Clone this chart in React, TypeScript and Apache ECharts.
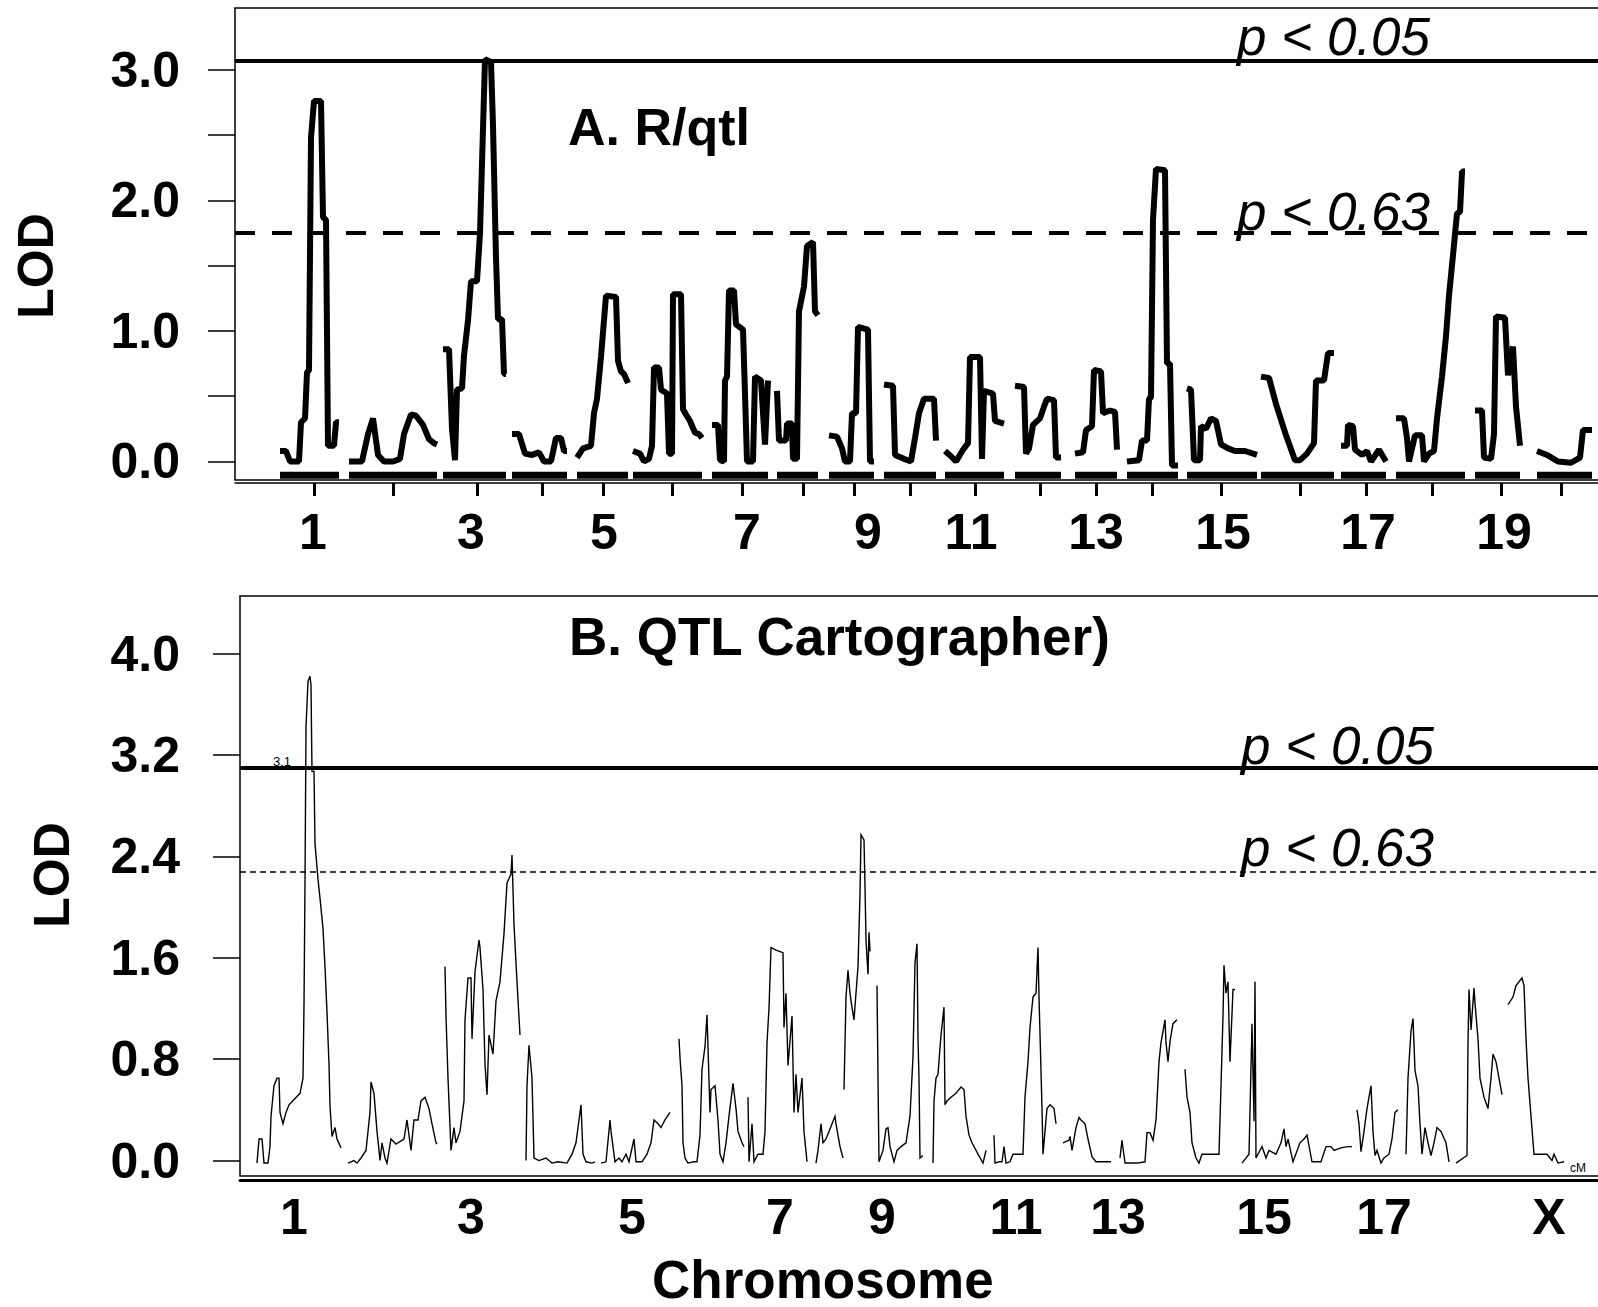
import React, { useEffect, useRef } from "react";
import * as echarts from "echarts";

// ---------- Panel A (R/qtl): [cumulative position (cM), LOD] per chromosome ----------
const rqtlChr1 = [[45,0.08],[51,0.08],[55,0.0],[64,0.0],[66,0.3],[70,0.33],[72,0.68],[74,0.7],[76,2.48],[79,2.76],[86,2.76],[88,1.87],[91,1.85],[93,0.12],[99,0.12],[101,0.3],[104,0.3]];
const rqtlChr2 = [[114,0.0],[127,0.0],[133,0.21],[138,0.33],[143,0.05],[149,0.0],[158,0.0],[165,0.02],[169,0.21],[176,0.36],[181,0.35],[188,0.28],[194,0.17],[199,0.14],[202,0.13]];
const rqtlChr3 = [[208,0.86],[214,0.86],[217,0.25],[220,0.01],[222,0.55],[227,0.56],[229,0.81],[233,1.08],[236,1.38],[242,1.38],[245,1.75],[250,3.08],[256,3.06],[258,2.57],[261,1.56],[263,1.09],[267,1.09],[269,0.67],[271,0.67]];
const rqtlChr4 = [[277,0.21],[284,0.21],[290,0.06],[297,0.05],[304,0.07],[309,0.0],[316,0.0],[321,0.18],[326,0.18],[329,0.08],[332,0.08]];
const rqtlChr5 = [[342,0.03],[348,0.1],[356,0.12],[359,0.37],[362,0.48],[366,0.8],[371,1.27],[381,1.26],[383,0.77],[386,0.69],[389,0.67],[393,0.6]];
const rqtlChr6 = [[398,0.08],[405,0.06],[409,0.0],[414,0.02],[417,0.12],[419,0.72],[424,0.72],[426,0.55],[432,0.52],[434,0.06],[437,0.06],[438,1.28],[446,1.28],[448,0.4],[451,0.36],[455,0.31],[460,0.22],[464,0.21],[467,0.18]];
const rqtlChr7 = [[477,0.28],[483,0.28],[485,0.01],[489,0.0],[490,0.62],[492,0.65],[494,1.31],[499,1.31],[501,1.05],[508,1.01],[510,0.52],[512,0.0],[518,0.0],[520,0.65],[526,0.62],[530,0.13],[533,0.62]];
const rqtlChr8 = [[542,0.54],[544,0.16],[551,0.16],[552,0.29],[557,0.29],[558,0.02],[562,0.02],[564,1.15],[569,1.34],[572,1.65],[578,1.68],[580,1.15],[583,1.12]];
const rqtlChr9 = [[594,0.2],[602,0.19],[607,0.1],[610,0.0],[615,0.0],[617,0.37],[621,0.37],[623,1.03],[633,1.01],[635,0.0],[639,0.0]];
const rqtlChr10 = [[649,0.59],[658,0.58],[660,0.05],[669,0.02],[676,0.0],[680,0.18],[684,0.37],[689,0.48],[699,0.48],[701,0.16]];
const rqtlChr11 = [[710,0.08],[716,0.04],[721,0.0],[728,0.09],[733,0.14],[735,0.8],[745,0.8],[747,0.02],[749,0.54],[758,0.52],[760,0.31],[769,0.29]];
const rqtlChr12 = [[780,0.58],[789,0.57],[791,0.06],[794,0.1],[798,0.28],[805,0.33],[809,0.42],[812,0.48],[819,0.47],[821,0.03],[826,0.03]];
const rqtlChr13 = [[840,0.06],[848,0.07],[851,0.24],[857,0.27],[859,0.7],[866,0.69],[868,0.37],[875,0.39],[880,0.38],[882,0.09]];
const rqtlChr14 = [[892,0.0],[904,0.01],[907,0.16],[912,0.16],[914,0.48],[916,0.49],[918,1.85],[921,2.24],[930,2.23],[932,0.75],[935,0.75],[937,-0.03],[943,-0.03]];
const rqtlChr15 = [[952,0.56],[956,0.55],[959,0.01],[965,0.01],[966,0.27],[971,0.25],[976,0.33],[981,0.31],[986,0.13],[993,0.1],[1000,0.08],[1010,0.08],[1022,0.05]];
const rqtlChr16 = [[1026,0.65],[1034,0.64],[1041,0.44],[1051,0.2],[1060,0.01],[1065,0.01],[1072,0.06],[1079,0.14],[1081,0.62],[1089,0.62],[1093,0.83],[1099,0.83]];
const rqtlChr17 = [[1106,0.12],[1112,0.12],[1113,0.28],[1118,0.27],[1120,0.09],[1127,0.05],[1132,0.08],[1136,0.0],[1144,0.09],[1151,0.0]];
const rqtlChr18 = [[1161,0.33],[1169,0.33],[1172,0.18],[1174,0.0],[1180,0.2],[1187,0.2],[1189,0.0],[1194,0.06],[1199,0.08],[1202,0.33],[1207,0.65],[1211,0.96],[1214,1.27],[1218,1.58],[1222,1.9],[1225,1.91],[1227,2.22],[1230,2.22]];
const rqtlChr19 = [[1240,0.39],[1247,0.39],[1249,0.03],[1256,0.02],[1259,0.21],[1261,1.11],[1270,1.1],[1273,0.66],[1278,0.88],[1281,0.42],[1285,0.12]];
const rqtlChr20 = [[1302,0.08],[1312,0.05],[1323,0.0],[1336,-0.01],[1345,0.03],[1348,0.24],[1357,0.24]];

const rqtlProfiles = [rqtlChr1, rqtlChr2, rqtlChr3, rqtlChr4, rqtlChr5, rqtlChr6, rqtlChr7, rqtlChr8, rqtlChr9, rqtlChr10,
  rqtlChr11, rqtlChr12, rqtlChr13, rqtlChr14, rqtlChr15, rqtlChr16, rqtlChr17, rqtlChr18, rqtlChr19, rqtlChr20];

const rqtlTickPositions = [79,158,242,307,368,437,507,568,619,675,740,805,861,917,986,1065,1131,1197,1266,1326];
const rqtlLabelPositions = [78,236,369,512,633,736,861,988,1133,1269];
const rqtlLabels = ["1","3","5","7","9","11","13","15","17","19"];
const rqtlYTicks = [0,0.5,1,1.5,2,2.5,3];
const rqtlYLabels = [0,1,2,3];
const rqtlThreshold05 = 3.07;
const rqtlThreshold63 = 1.75;
const rqtlRugLevel = -0.105;

// ---------- Panel B (QTL Cartographer): [cumulative position (cM), LOD] per segment ----------
const cartSeg01 = [[17,-0.02],[19,0.17],[22,0.17],[24,-0.02],[28,-0.02],[30,0.11],[31,0.35],[34,0.59],[37,0.65],[39,0.65],[40,0.38],[43,0.29],[46,0.38],[49,0.44],[55,0.49],[60,0.53],[63,0.65],[64,1.23],[65,2.19],[66,3.42],[68,3.78],[70,3.82],[71,3.75],[72,3.07],[74,3.07],[75,2.5],[78,2.22],[80,2.07],[83,1.83],[85,1.53],[87,1.17],[89,0.76],[90,0.43],[92,0.19],[95,0.26],[97,0.17],[101,0.1]];
const cartSeg02 = [[108,-0.02],[114,0.0],[117,-0.02],[121,0.02],[126,0.08],[130,0.38],[131,0.62],[134,0.53],[137,0.23],[139,0.08],[140,0.0],[142,0.14],[145,0.02],[147,-0.02],[151,0.17],[156,0.13],[164,0.17],[167,0.32],[171,0.08],[174,0.32],[178,0.32],[181,0.47],[185,0.5],[189,0.41],[192,0.29],[196,0.14],[197,0.13]];
const cartSeg03 = [[205,1.53],[206,1.14],[208,0.65],[211,0.08],[214,0.26],[216,0.14],[220,0.23],[224,0.47],[225,1.11],[228,1.44],[231,1.44],[232,0.96],[235,1.49],[239,1.74],[240,1.68],[243,1.35],[245,0.76],[247,0.52],[249,0.99],[253,0.84],[256,1.26],[260,1.41],[264,1.79],[267,2.19],[271,2.26],[272,2.41],[274,1.86],[277,1.41],[280,0.99]];
const cartSeg04 = [[286,0.0],[287,0.59],[289,0.91],[292,0.65],[294,0.02],[299,0.0],[306,0.02],[312,-0.02],[318,-0.01],[327,-0.02],[332,0.05],[336,0.14],[341,0.44],[343,0.05],[346,-0.01],[352,-0.02],[355,-0.01]];
const cartSeg05 = [[361,-0.02],[366,-0.01],[370,0.32],[371,0.23],[375,-0.01],[379,0.02],[382,-0.01],[386,0.05],[389,-0.01],[394,0.17],[396,-0.01],[402,-0.01],[407,0.05],[411,0.14],[414,0.32],[418,0.29],[421,0.26],[425,0.32],[430,0.38]];
const cartSeg06 = [[439,0.96],[440,0.81],[442,0.59],[443,0.14],[445,0.02],[448,-0.02],[454,-0.01],[457,-0.01],[460,0.2],[462,0.72],[465,0.9],[467,1.15],[470,0.38],[471,0.56],[475,0.59],[478,0.32],[480,0.05],[483,-0.01],[486,0.14],[489,0.35],[493,0.61],[496,0.41],[498,0.23],[502,0.14],[504,0.11]];
const cartSeg07 = [[508,0.5],[509,-0.01],[512,0.29],[514,-0.01],[518,0.05],[523,0.05],[525,0.23],[527,0.93],[529,1.2],[531,1.68],[536,1.66],[543,1.64],[544,1.05],[546,1.32],[548,0.75],[552,1.14],[554,0.38],[556,0.68],[558,0.38],[562,0.65],[564,0.23],[567,-0.01]];
const cartSeg08 = [[576,-0.02],[578,0.08],[581,0.29],[583,0.14],[586,0.17],[589,0.23],[595,0.35],[596,0.29],[600,0.11],[603,0.02]];
const cartSeg09 = [[604,0.56],[606,1.29],[608,1.5],[610,1.32],[611,1.26],[614,1.11],[616,1.32],[618,1.53],[620,2.1],[621,2.57],[624,2.53],[625,2.16],[626,1.74],[628,1.47],[629,1.8],[630,1.65]];
const cartSeg10 = [[637,1.38],[638,0.65],[639,-0.01],[643,0.08],[646,0.25],[648,0.26],[650,0.11],[654,-0.01],[657,0.08],[661,0.11],[666,0.14],[670,0.35],[673,0.82],[675,1.56],[677,1.71],[678,0.96],[679,0.65],[680,0.02],[683,0.04]];
const cartSeg11 = [[693,-0.02],[694,0.47],[696,0.65],[698,0.68],[701,0.99],[704,1.21],[705,0.44],[707,0.47],[711,0.5],[716,0.53],[721,0.58],[724,0.56],[726,0.35],[729,0.2],[732,0.14],[738,0.05],[743,-0.02],[746,0.08]];
const cartSeg12 = [[754,0.2],[755,-0.02],[759,-0.01],[762,-0.01],[764,0.11],[766,-0.02],[770,-0.01],[773,0.05],[779,0.05],[783,0.05],[785,0.5],[788,0.78],[790,1.05],[793,1.29],[796,1.32],[798,1.68],[799,1.29],[800,1.0],[802,0.41],[803,0.05],[805,0.23],[807,0.41],[810,0.44],[814,0.41],[816,0.29]];
const cartSeg13 = [[823,0.14],[829,0.16],[830,0.19],[832,0.08],[836,0.26],[839,0.34],[841,0.32],[845,0.29],[848,0.17],[852,0.03],[856,-0.01],[863,-0.01],[871,-0.01]];
const cartSeg14 = [[880,0.02],[882,0.16],[885,-0.02],[889,-0.02],[897,-0.02],[905,-0.01],[907,0.22],[910,0.22],[913,0.16],[916,0.32],[919,0.78],[921,0.93],[925,1.11],[926,0.93],[928,0.78],[930,0.94],[933,1.08],[937,1.11]];
const cartSeg15 = [[945,0.72],[947,0.5],[950,0.38],[952,0.14],[956,0.02],[959,-0.02],[962,0.05],[971,0.05],[979,0.05],[981,0.59],[983,1.14],[984,1.54],[986,1.32],[988,1.41],[990,0.78],[993,1.35],[995,1.35]];
const cartSeg16 = [[1002,-0.02],[1009,0.05],[1012,1.08],[1014,0.31],[1015,1.41],[1016,0.02],[1022,0.11],[1026,0.02],[1029,0.08],[1036,0.05],[1041,0.14],[1044,0.25],[1046,0.11],[1048,0.17],[1053,-0.01],[1060,0.14],[1064,0.17],[1067,0.2],[1072,-0.01],[1081,-0.01],[1086,0.11],[1091,0.11],[1094,0.08],[1101,0.1],[1108,0.11],[1112,0.11]];
const cartSeg17 = [[1117,0.4],[1119,0.29],[1121,0.07],[1124,0.23],[1127,0.41],[1131,0.59],[1133,0.23],[1135,0.04],[1137,0.08],[1141,-0.02],[1144,0.02],[1149,0.05],[1152,0.17],[1155,0.38],[1158,0.4]];
const cartSeg18 = [[1166,0.05],[1168,0.65],[1171,1.02],[1173,1.12],[1175,0.71],[1178,0.59],[1180,0.29],[1182,0.05],[1185,0.26],[1188,0.14],[1191,0.04],[1194,0.14],[1197,0.26],[1201,0.23],[1206,0.14],[1209,-0.01]];
const cartSeg19 = [[1216,-0.02],[1227,0.04],[1228,0.93],[1229,1.35],[1231,1.03],[1234,1.36],[1235,1.24],[1238,0.96],[1240,0.65],[1244,0.5],[1248,0.41],[1251,0.65],[1253,0.84],[1256,0.78],[1259,0.65],[1262,0.52]];
const cartSeg20 = [[1268,1.23],[1273,1.29],[1276,1.38],[1282,1.44],[1284,1.38],[1286,0.96],[1288,0.65],[1291,0.35],[1294,0.05],[1300,0.05],[1307,0.05],[1312,0.0],[1314,0.05],[1318,-0.02],[1324,-0.01]];

const cartProfiles = [cartSeg01, cartSeg02, cartSeg03, cartSeg04, cartSeg05, cartSeg06, cartSeg07, cartSeg08, cartSeg09, cartSeg10,
  cartSeg11, cartSeg12, cartSeg13, cartSeg14, cartSeg15, cartSeg16, cartSeg17, cartSeg18, cartSeg19, cartSeg20];

const cartLabelPositions = [54,231,392,540,642,776,878,1024,1144,1309];
const cartLabels = ["1","3","5","7","9","11","13","15","17","X"];
const cartYTicks = [0,0.8,1.6,2.4,3.2,4.0];
const cartThreshold05 = 3.1;
const cartThreshold63 = 2.28;

const FONT = '"Liberation Sans", Arial, sans-serif';

function textEl(text: string, x: number, y: number, font: string, size: number, align = "left", rotation = 0) {
  return {
    type: "text",
    x,
    y,
    rotation,
    silent: true,
    style: {
      text,
      font,
      fill: "#000",
      lineHeight: size,
      align,
      verticalAlign: "middle",
      textAlign: align,
      textVerticalAlign: "middle",
    },
  };
}

export default function App() {
  const ref = useRef<HTMLDivElement>(null);

  useEffect(() => {
    document.body.style.margin = "0";
    document.body.style.overflow = "hidden";
    if (!ref.current) return;
    const chart = echarts.init(ref.current, null, { renderer: "svg" });

    const series: any[] = [];

    rqtlProfiles.forEach((d, i) => {
      series.push({
        type: "line",
        xAxisIndex: 0,
        yAxisIndex: 0,
        data: d,
        showSymbol: false,
        symbol: "none",
        silent: true,
        lineStyle: { color: "#000", width: 6, cap: "butt", join: "bevel" },
        markLine: i === 0 ? {
          silent: true,
          symbol: ["none", "none"],
          label: { show: false },
          data: [
            { yAxis: rqtlThreshold05, lineStyle: { type: "solid", width: 4, color: "#000" } },
            { yAxis: rqtlThreshold63, lineStyle: { type: [20, 17], width: 4, color: "#000" } },
          ],
        } : undefined,
      });
      // marker rug along the chromosome
      series.push({
        type: "line",
        xAxisIndex: 0,
        yAxisIndex: 0,
        data: [[d[0][0], rqtlRugLevel], [d[d.length - 1][0], rqtlRugLevel]],
        showSymbol: false,
        symbol: "none",
        silent: true,
        lineStyle: { color: "#000", width: 7, cap: "butt" },
      });
    });

    cartProfiles.forEach((d, i) => {
      series.push({
        type: "line",
        xAxisIndex: 1,
        yAxisIndex: 1,
        data: d,
        showSymbol: false,
        symbol: "none",
        silent: true,
        lineStyle: { color: "#000", width: 1.4, join: "miter" },
        markLine: i === 0 ? {
          silent: true,
          symbol: ["none", "none"],
          label: { show: false },
          data: [
            { yAxis: cartThreshold05, lineStyle: { type: "solid", width: 4, color: "#000" } },
            { yAxis: cartThreshold63, lineStyle: { type: [6, 4], width: 1.5, color: "#000" } },
          ],
        } : undefined,
      });
    });

    const labelStyle = { fontSize: 50, fontWeight: "bold", fontFamily: FONT, color: "#000" };

    chart.setOption({
      animation: false,
      backgroundColor: "#fff",
      grid: [
        { left: 235, top: 8, width: 1393, height: 472, outerBoundsMode: "none", containLabel: false, show: true, borderColor: "#000", borderWidth: 1.5, backgroundColor: "transparent" },
        { left: 240, top: 596, width: 1388, height: 580, outerBoundsMode: "none", containLabel: false, show: true, borderColor: "#000", borderWidth: 1.5, backgroundColor: "transparent" },
      ],
      xAxis: [
        {
          gridIndex: 0, type: "value", min: 0, max: 1393, position: "bottom", offset: 3,
          axisLine: { show: true, onZero: false, lineStyle: { color: "#000", width: 1.5 } },
          axisTick: { show: true, length: 13, customValues: rqtlTickPositions, lineStyle: { color: "#000", width: 3 } },
          axisLabel: {
            show: true, customValues: rqtlLabelPositions, margin: 24, ...labelStyle,
            formatter: (v: number) => rqtlLabels[rqtlLabelPositions.indexOf(Math.round(v))] ?? "",
          },
          splitLine: { show: false },
        },
        {
          gridIndex: 1, type: "value", min: 0, max: 1388, position: "bottom", offset: 4,
          axisLine: { show: true, onZero: false, lineStyle: { color: "#000", width: 3 } },
          axisTick: { show: false },
          axisLabel: {
            show: true, customValues: cartLabelPositions, margin: 12, ...labelStyle,
            formatter: (v: number) => cartLabels[cartLabelPositions.indexOf(Math.round(v))] ?? "",
          },
          splitLine: { show: false },
        },
      ],
      yAxis: [
        {
          gridIndex: 0, type: "value", min: -0.142, max: 3.473,
          axisLine: { show: false },
          axisTick: { show: true, length: 27, customValues: rqtlYTicks, lineStyle: { color: "#000", width: 1.5 } },
          axisLabel: { show: true, customValues: rqtlYLabels, margin: 55, ...labelStyle, formatter: (v: number) => v.toFixed(1) },
          splitLine: { show: false },
        },
        {
          gridIndex: 1, type: "value", min: -0.122, max: 4.454,
          axisLine: { show: false },
          axisTick: { show: true, length: 27, customValues: cartYTicks, lineStyle: { color: "#000", width: 1.5 } },
          axisLabel: { show: true, customValues: cartYTicks, margin: 60, ...labelStyle, formatter: (v: number) => v.toFixed(1) },
          splitLine: { show: false },
        },
      ],
      graphic: [
        textEl("A. R/qtl", 568, 127, `bold 52px ${FONT}`, 52),
        textEl("p < 0.05", 1237, 36, `italic 53px ${FONT}`, 53),
        textEl("p < 0.63", 1237, 211, `italic 53px ${FONT}`, 53),
        textEl("LOD", 36, 266, `bold 50px ${FONT}`, 50, "center", Math.PI / 2),
        textEl("B. QTL Cartographer)", 569, 636, `bold 53px ${FONT}`, 53),
        textEl("p < 0.05", 1241, 745, `italic 53px ${FONT}`, 53),
        textEl("p < 0.63", 1241, 847, `italic 53px ${FONT}`, 53),
        textEl("LOD", 52, 875, `bold 50px ${FONT}`, 50, "center", Math.PI / 2),
        textEl("3.1", 282, 761, `13px ${FONT}`, 13, "center"),
        textEl("cM", 1578, 1168, `12px ${FONT}`, 12, "center"),
        textEl("Chromosome", 652, 1279, `bold 53px ${FONT}`, 53),
      ],
      series,
    });

    return () => chart.dispose();
  }, []);

  return <div ref={ref} style={{ width: 1598, height: 1307 }} />;
}
